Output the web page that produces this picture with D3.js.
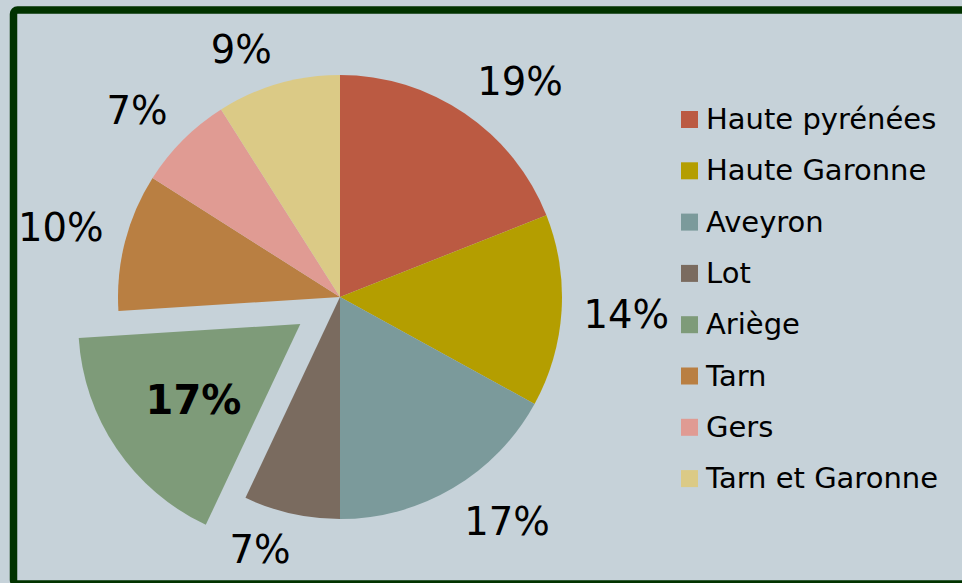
<!DOCTYPE html>
<html>
<head>
<meta charset="utf-8">
<script src="https://cdn.jsdelivr.net/npm/d3@7"></script>
<style>
  html, body { margin: 0; padding: 0; background: #c6d2d9; }
  svg { display: block; font-family: "DejaVu Sans", Verdana, sans-serif; }
</style>
</head>
<body>
<div id="chart"></div>
<script>
const departements = ["Haute pyrénées", "Haute Garonne", "Aveyron", "Lot", "Ariège", "Tarn", "Gers", "Tarn et Garonne"];
const parts = [19, 14, 17, 7, 17, 10, 7, 9];
const couleurs = ["#bb5a42", "#b49e00", "#7b9a9b", "#7a6b5f", "#7e9b79", "#b97f42", "#e09b93", "#dbca86"];
const detache = "Ariège";

const width = 962;
const height = 583;
const cx = 340, cy = 297;
const radius = 222;
const explode = 48;

const data = departements.map((d, i) => ({ name: d, value: parts[i] }));

const svg = d3.select("#chart")
  .append("svg")
  .attr("width", width)
  .attr("height", height);

// fond + cadre vert
svg.append("rect")
  .attr("x", 0).attr("y", 0)
  .attr("width", width).attr("height", height)
  .attr("fill", "#c6d2d9");

svg.append("rect")
  .attr("x", 13.5).attr("y", 10)
  .attr("width", 1000).attr("height", 574)
  .attr("rx", 4)
  .attr("fill", "#c6d2d9")
  .attr("stroke", "#013300")
  .attr("stroke-width", 7.5);

const color = d3.scaleOrdinal().domain(departements).range(couleurs);

const pie = d3.pie().sort(null).value((d) => d.value);
const arcs = pie(data);

const arc = d3.arc().innerRadius(0).outerRadius(radius);
const anchorArc = d3.arc().innerRadius(244).outerRadius(244);
const innerLabelArc = d3.arc().innerRadius(134).outerRadius(134);

const g = svg.append("g").attr("transform", `translate(${cx},${cy})`);

function offset(d) {
  if (d.data.name !== detache) return [0, 0];
  const a = (d.startAngle + d.endAngle) / 2;
  return [Math.sin(a) * explode, -Math.cos(a) * explode];
}

g.selectAll("path.slice")
  .data(arcs)
  .enter()
  .append("path")
  .attr("class", "slice")
  .attr("d", arc)
  .attr("fill", (d) => color(d.data.name))
  .attr("transform", (d) => `translate(${offset(d)})`);

const fmt = (v) => `${v}%`;
const clamp = (v) => Math.max(-1, Math.min(1, v));

// étiquettes : à l'extérieur, la boîte du texte posée contre le point d'ancrage
g.selectAll("text.lbl")
  .data(arcs)
  .enter()
  .append("text")
  .attr("class", "lbl")
  .attr("text-anchor", "middle")
  .attr("dy", "0.36em")
  .style("font-size", (d) => (d.data.name === detache ? "40px" : "38.5px"))
  .style("font-weight", (d) => (d.data.name === detache ? "bold" : "normal"))
  .attr("fill", "#000")
  .text((d) => fmt(d.data.value))
  .attr("transform", function (d) {
    const o = offset(d);
    if (d.data.name === detache) {
      const p = innerLabelArc.centroid(d);
      return `translate(${p[0] + o[0] + 4},${p[1] + o[1]})`;
    }
    const a = (d.startAngle + d.endAngle) / 2;
    const p = anchorArc.centroid(d);
    const w = this.getComputedTextLength();
    const h = 28;
    const x = p[0] + clamp(4 * Math.sin(a)) * w / 2;
    const y = p[1] + clamp(-2.5 * Math.cos(a)) * h / 2;
    return `translate(${x},${y})`;
  });

// légende
const legend = svg.append("g").attr("transform", "translate(681, 111)");

departements.forEach((name, i) => {
  const row = legend.append("g").attr("transform", `translate(0, ${i * 51.3})`);
  row.append("rect")
    .attr("width", 17)
    .attr("height", 17)
    .attr("fill", color(name));
  row.append("text")
    .attr("x", 25)
    .attr("y", 18)
    .style("font-size", "29px")
    .attr("fill", "#000")
    .text(name);
});
</script>
</body>
</html>
